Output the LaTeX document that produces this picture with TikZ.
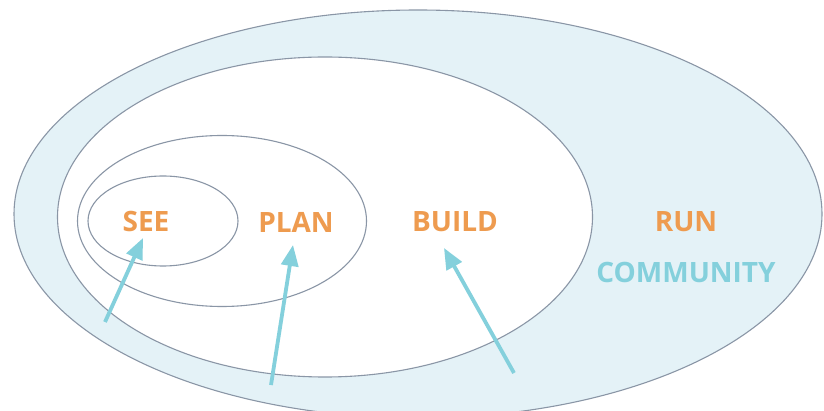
\documentclass[tikz,border=0pt]{standalone}
\usepackage{fontspec}
\setmainfont{Open Sans}
\usetikzlibrary{shapes.geometric,arrows.meta}

\definecolor{ringline}{HTML}{8A96A6}
\definecolor{ringfill}{HTML}{E4F2F7}
\definecolor{stage}{HTML}{EE9B4F}
\definecolor{teal}{HTML}{84D0DC}

\begin{document}
\begin{tikzpicture}[x=1pt,y=-1pt,
            ring/.style={draw=ringline,line width=1.1pt,ellipse,inner sep=0pt},
            label/.style={font=\fontsize{28}{28}\selectfont\bfseries,inner sep=0pt},
            pointer/.style={teal,line width=3.8pt,-{Triangle[length=21pt,width=17pt]}},
            ]
            \useasboundingbox (0,0) rectangle (824,411);

            % nested rings, outermost first
            \node[ring,fill=ringfill,minimum width=808pt,minimum height=408pt] (run) at (418,214) {};
            \node[ring,fill=white,minimum width=535pt,minimum height=320pt] (buildring) at (325,217) {};
            \node[ring,minimum width=289pt,minimum height=171pt] (planring) at (222,221) {};
            \node[ring,minimum width=150pt,minimum height=90pt] (seering) at (163,221) {};

            \node[label,stage] (see) at (146,222) {SEE};
            \node[label,stage] (plan) at (296,222) {PLAN};
            \node[label,stage] (build) at (455,222) {BUILD};
            \node[label,stage] (runtext) at (686,222) {RUN};
            \node[label,teal] (community) at (686,272) {COMMUNITY};

            \coordinate (seetail) at (105,322);
            \coordinate (seetip) at (143,238);
            \coordinate (plantail) at (271,385);
            \coordinate (plantip) at (293,245);
            \coordinate (buildtail) at (514,373);
            \coordinate (buildtip) at (444,248);

            \draw[pointer] (seetail) -- (seetip);
            \draw[pointer] (plantail) -- (plantip);
            \draw[pointer] (buildtail) -- (buildtip);
        \end{tikzpicture}
\end{document}
